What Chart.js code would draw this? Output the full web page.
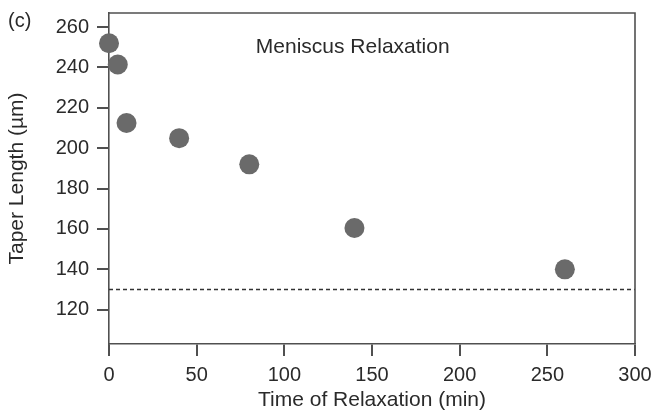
<!DOCTYPE html>
<html>
<head>
<meta charset="utf-8">
<script src="https://cdn.jsdelivr.net/npm/chart.js@4/dist/chart.umd.min.js"></script>
<style>
html,body{margin:0;padding:0;background:#fff;}
#wrap{width:653px;height:411px;}
</style>
</head>
<body>
<div id="wrap"><canvas id="c" width="653" height="411"></canvas></div>
<script>
// ---- data ----
const relaxTimes = [0, 5, 10, 40, 80, 140, 260];          // min
const taperLengths = [252, 241.5, 212.5, 205, 192, 160.5, 140]; // µm
const referenceLevel = 130;                                // dashed line, µm
const referenceSpan = [0, 300];
const xTickValues = [0, 50, 100, 150, 200, 250, 300];
const yTickValues = [120, 140, 160, 180, 200, 220, 240, 260];
const panelLabel = '(c)';
const plotLabel = 'Meniscus Relaxation';
const plotLabelAt = {x: 139, y: 250};
const xTitle = 'Time of Relaxation (min)';
const yTitle = 'Taper Length (\u00b5m)';

const FONT = '"Liberation Sans", Arial, Helvetica, sans-serif';
const TXT = '#2a2a2a';
const AX = '#505050';

const textPlugin = {
  id: 'texts',
  afterDraw(chart) {
    const ctx = chart.ctx;
    const a = chart.chartArea;
    ctx.save();
    ctx.strokeStyle = AX;
    ctx.lineWidth = 1.6;
    ctx.beginPath();
    ctx.moveTo(a.left, a.top);
    ctx.lineTo(a.right, a.top);
    ctx.lineTo(a.right, a.bottom);
    ctx.stroke();
    ctx.fillStyle = TXT;
    ctx.font = '20px ' + FONT;
    ctx.textBaseline = 'middle';
    ctx.textAlign = 'left';
    ctx.fillText(panelLabel, 8, 21);
    ctx.font = '21px ' + FONT;
    ctx.textAlign = 'center';
    ctx.fillText(plotLabel, chart.scales.x.getPixelForValue(plotLabelAt.x), chart.scales.y.getPixelForValue(plotLabelAt.y));
    ctx.restore();
  }
};

new Chart(document.getElementById('c'), {
  type: 'scatter',
  data: {
    datasets: [
      {
        data: relaxTimes.map((t, i) => ({x: t, y: taperLengths[i]})),
        backgroundColor: '#6a6a6a',
        borderWidth: 0,
        pointRadius: 10,
        pointHoverRadius: 10,
        clip: false,
        order: 0
      },
      {
        type: 'line',
        data: referenceSpan.map(x => ({x: x, y: referenceLevel})),
        borderColor: '#333',
        borderWidth: 1.5,
        borderDash: [4, 3],
        pointRadius: 0,
        fill: false,
        order: 1
      }
    ]
  },
  options: {
    responsive: false,
    animation: false,
    devicePixelRatio: 1,
    layout: {padding: {left: 0, right: 18, top: 13, bottom: 0}},
    plugins: {legend: {display: false}, tooltip: {enabled: false}},
    scales: {
      x: {
        type: 'linear',
        min: 0, max: 300,
        afterBuildTicks: s => { s.ticks = xTickValues.map(v => ({value: v})); },
        afterFit: s => { s.height = 67; s.paddingLeft = 0; s.paddingRight = 0; },
        grid: {display: true, drawOnChartArea: false, drawTicks: true, tickLength: 12, tickColor: AX, lineWidth: 2},
        border: {display: true, color: AX, width: 1.6},
        ticks: {color: TXT, font: {family: FONT, size: 20}, padding: 7, maxRotation: 0, autoSkip: false},
        title: {display: true, text: xTitle, color: TXT, font: {family: FONT, size: 21, lineHeight: 1}, padding: 0}
      },
      y: {
        type: 'linear',
        min: 103, max: 267,
        afterBuildTicks: s => { s.ticks = yTickValues.map(v => ({value: v})); },
        afterFit: s => { s.width = 109; s.paddingTop = 0; s.paddingBottom = 0; },
        grid: {display: true, drawOnChartArea: false, drawTicks: true, tickLength: 12, tickColor: AX, lineWidth: 2},
        border: {display: true, color: AX, width: 1.6},
        ticks: {color: TXT, font: {family: FONT, size: 20}, padding: 8, autoSkip: false},
        title: {display: true, text: yTitle, color: TXT, font: {family: FONT, size: 21, lineHeight: 1}, padding: {top: 7, bottom: 0}}
      }
    }
  },
  plugins: [textPlugin]
});
</script>
</body>
</html>
